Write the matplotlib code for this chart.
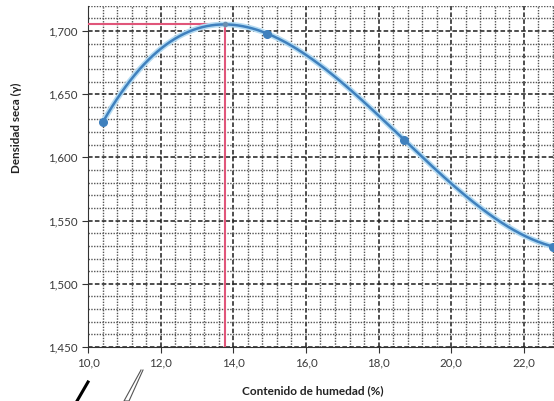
import numpy as np
import matplotlib
matplotlib.use("Agg")
from matplotlib import pyplot as plt
from matplotlib.lines import Line2D
from matplotlib.ticker import MultipleLocator, FuncFormatter

# puntos del ensayo (humedad %, densidad seca)
humedad = [10.41, 14.93, 18.70, 22.80]
densidad = [1.628, 1.698, 1.614, 1.5295]

x_ticks = [10.0, 12.0, 14.0, 16.0, 18.0, 20.0, 22.0]
y_ticks = [1.450, 1.500, 1.550, 1.600, 1.650, 1.700]

plt.rcParams['font.family'] = ['Lato', 'DejaVu Sans']

# curva suavizada (polinomio de 3er grado por los puntos)
coef = np.polyfit(humedad, densidad, 3)
xs = np.linspace(min(humedad), max(humedad), 300)
ys = np.polyval(coef, xs)
i_max = np.argmax(ys)
w_opt, d_max = xs[i_max], ys[i_max]

fig = plt.figure(figsize=(5.54, 4.01), dpi=100)
ax = fig.add_axes([88/554, 54/401, 466/554, 341.3/401])

ax.set_xlim(10.0, 22.83)
ax.set_ylim(1.450, 1.720)

ax.xaxis.set_major_locator(MultipleLocator(2.0))
ax.xaxis.set_minor_locator(MultipleLocator(0.4))
ax.yaxis.set_major_locator(MultipleLocator(0.05))
ax.yaxis.set_minor_locator(MultipleLocator(0.01))
ax.set_xticks(x_ticks)
ax.set_yticks(y_ticks)
ax.xaxis.set_major_formatter(FuncFormatter(lambda v, p: f"{v:.1f}".replace('.', ',')))
ax.yaxis.set_major_formatter(FuncFormatter(lambda v, p: f"{v:.3f}".replace('.', ',')))

ax.grid(which='minor', color='#555555', linestyle=(0, (1, 1)), linewidth=1.0)
ax.grid(which='major', color='#1e1e1e', linestyle=(0, (3, 1.5)), linewidth=1.1)
ax.set_axisbelow(True)

for s in ['top', 'right']:
    ax.spines[s].set_visible(False)
ax.spines['left'].set_color('#333333')
ax.spines['bottom'].set_color('#333333')
ax.tick_params(axis='both', which='major', direction='out', length=4,
               color='#333333', labelsize=8.3, labelcolor='#3a3a3a')
ax.tick_params(axis='both', which='minor', length=0)

# lineas de maxima densidad / humedad optima
ax.plot([10.0, w_opt], [d_max, d_max], color='#e0567a', lw=1.5, zorder=3)
ax.plot([w_opt, w_opt], [1.450, d_max], color='#e0567a', lw=1.5, zorder=3)

ax.plot(xs, ys, color='#b5dcf3', lw=4, zorder=4, solid_capstyle='round')
ax.plot(xs, ys, color='#3f80bd', lw=1.8, zorder=5)
ax.plot(humedad, densidad, 'o', color='#3f80bd', ms=5.5, zorder=6, clip_on=True)
ax.plot([w_opt], [d_max], 'o', color='#6a8fb0', ms=3, zorder=6)

ax.set_xlabel('Contenido de humedad (%)', fontsize=8.5, fontweight='bold',
              color='#222222')
ax.set_ylabel('Densidad seca (γ)', fontsize=8.4, fontweight='bold',
              color='#222222')
ax.xaxis.set_label_coords(0.483, -0.111)
ax.yaxis.set_label_coords(-0.142, 0.642)

# trazos de firma al pie
fig.add_artist(Line2D([88/554, 77/554], [1 - 382/401, 1 - 401/401],
                      color='black', lw=2.2))
fig.add_artist(Line2D([141/554, 124/554, 129/554, 143/554],
                      [1 - 370/401, 1 - 401/401, 1 - 401/401, 1 - 370/401],
                      color='#555555', lw=0.8))

fig.savefig('out.png', dpi=100)
